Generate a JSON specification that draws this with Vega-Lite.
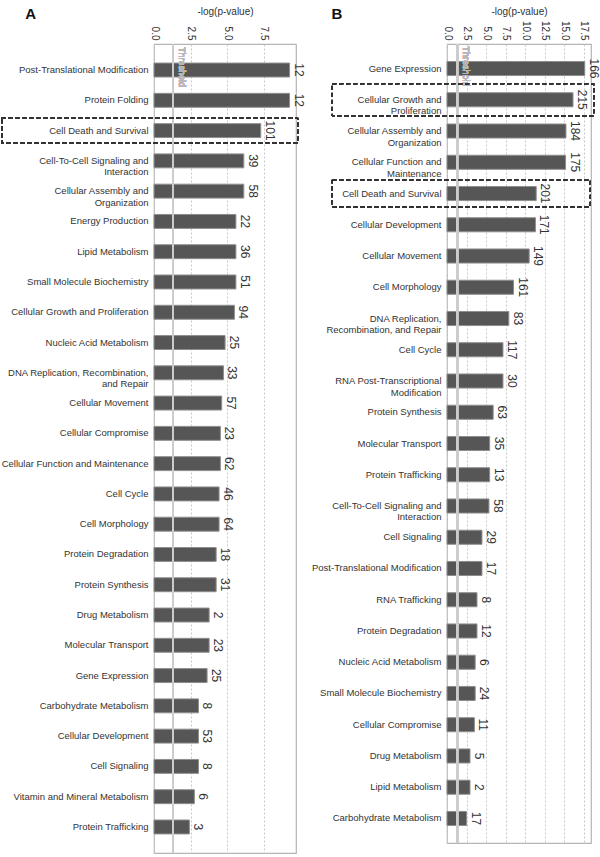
{
  "$schema": "https://vega.github.io/schema/vega-lite/v6.json",
  "padding": {"left": 0, "top": 5, "right": 0, "bottom": 2},
  "spacing": 4,
  "config": {
    "font": "Liberation Sans",
    "view": {"stroke": "#b5b5b5", "strokeWidth": 1.2},
    "title": {"fontSize": 15, "fontWeight": "bold", "color": "#111", "anchor": "start", "frame": "bounds"},
    "axisY": {"domain": false, "ticks": false, "labelFontSize": 9.5, "labelColor": "#333", "labelPadding": 6, "labelLineHeight": 11.5, "labelLimit": 300, "title": null, "labelExpr": "split(datum.label, '|')"},
    "axisX": {"orient": "top", "domain": false, "ticks": false, "labelFontSize": 10, "labelColor": "#333", "labelAngle": 90, "labelAlign": "right", "labelBaseline": "middle", "labelPadding": 4, "format": ".1f", "grid": true, "gridDash": [2, 2], "gridColor": "#c8c8c8", "titleFontSize": 10, "titleFontWeight": "normal", "titleColor": "#333", "titlePadding": 4, "minExtent": 24, "maxExtent": 24, "labelOverlap": false}
  },
  "hconcat": [
    {
      "width": 142,
      "height": 809,
      "title": {"text": "A", "offset": -16, "dx": 24},
      "data": {"values": [
        {"category": "Post-Translational Modification", "logp": 9.27, "molecules": 12},
        {"category": "Protein Folding", "logp": 9.27, "molecules": 12},
        {"category": "Cell Death and Survival", "logp": 7.3, "molecules": 101},
        {"category": "Cell-To-Cell Signaling and|Interaction", "logp": 6.14, "molecules": 39},
        {"category": "Cellular Assembly and|Organization", "logp": 6.14, "molecules": 58},
        {"category": "Energy Production", "logp": 5.6, "molecules": 22},
        {"category": "Lipid Metabolism", "logp": 5.6, "molecules": 36},
        {"category": "Small Molecule Biochemistry", "logp": 5.6, "molecules": 51},
        {"category": "Cellular Growth and Proliferation", "logp": 5.5, "molecules": 94},
        {"category": "Nucleic Acid Metabolism", "logp": 4.86, "molecules": 25},
        {"category": "DNA Replication, Recombination,|and Repair", "logp": 4.75, "molecules": 33},
        {"category": "Cellular Movement", "logp": 4.63, "molecules": 57},
        {"category": "Cellular Compromise", "logp": 4.54, "molecules": 23},
        {"category": "Cellular Function and Maintenance", "logp": 4.54, "molecules": 62},
        {"category": "Cell Cycle", "logp": 4.45, "molecules": 46},
        {"category": "Cell Morphology", "logp": 4.45, "molecules": 64},
        {"category": "Protein Degradation", "logp": 4.25, "molecules": 18},
        {"category": "Protein Synthesis", "logp": 4.25, "molecules": 31},
        {"category": "Drug Metabolism", "logp": 3.77, "molecules": 2},
        {"category": "Molecular Transport", "logp": 3.77, "molecules": 23},
        {"category": "Gene Expression", "logp": 3.63, "molecules": 25},
        {"category": "Carbohydrate Metabolism", "logp": 3.04, "molecules": 8},
        {"category": "Cellular Development", "logp": 3.04, "molecules": 53},
        {"category": "Cell Signaling", "logp": 3.04, "molecules": 8},
        {"category": "Vitamin and Mineral Metabolism", "logp": 2.76, "molecules": 6},
        {"category": "Protein Trafficking", "logp": 2.42, "molecules": 3}
      ]},
      "encoding": {
        "y": {"field": "category", "type": "nominal", "sort": null, "scale": {"paddingInner": 0.54, "paddingOuter": 0.63}},
        "x": {"field": "logp", "type": "quantitative", "scale": {"domain": [0, 9.71], "nice": false}, "axis": {"title": "-log(p-value)", "values": [0, 2.5, 5, 7.5]}}
      },
      "layer": [
        {"mark": {"type": "bar", "fill": "#565656", "stroke": "#8e8e8e", "strokeWidth": 1}},
        {"mark": {"type": "text", "angle": 90, "align": "center", "baseline": "bottom", "dy": -2, "fontSize": 12, "fill": "#333"}, "encoding": {"text": {"field": "molecules", "type": "quantitative"}}},
        {"mark": {"type": "rule", "color": "#cccccc", "opacity": 0.6, "strokeWidth": 2}, "encoding": {"x": {"datum": 1.3}, "y": null}},
        {"mark": {"type": "text", "text": "Threshold", "angle": 90, "align": "left", "baseline": "bottom", "dx": -16, "dy": -4, "fontSize": 9, "fill": "#b8b8b8"}, "encoding": {"x": {"datum": 1.3}, "y": {"datum": "Post-Translational Modification", "type": "nominal", "bandPosition": 0}}},
        {"mark": {"type": "bar", "fill": null, "fillOpacity": 0, "stroke": "#333", "strokeWidth": 1, "strokeDash": [4, 3], "height": {"band": 1.79}}, "encoding": {"x": {"datum": -10.41}, "x2": {"datum": 9.85}, "y": {"datum": "Cell Death and Survival", "type": "nominal"}}}
      ]
    },
    {
      "width": 144,
      "height": 799,
      "title": {"text": "B", "offset": -16, "dx": 20},
      "data": {"values": [
        {"category": "Gene Expression", "logp": 17.6, "molecules": 166},
        {"category": "Cellular Growth and|Proliferation", "logp": 16.1, "molecules": 215},
        {"category": "Cellular Assembly and|Organization", "logp": 15.2, "molecules": 184},
        {"category": "Cellular Function and|Maintenance", "logp": 15.15, "molecules": 175},
        {"category": "Cell Death and Survival", "logp": 11.4, "molecules": 201},
        {"category": "Cellular Development", "logp": 11.3, "molecules": 171},
        {"category": "Cellular Movement", "logp": 10.5, "molecules": 149},
        {"category": "Cell Morphology", "logp": 8.5, "molecules": 161},
        {"category": "DNA Replication,|Recombination, and Repair", "logp": 7.9, "molecules": 83},
        {"category": "Cell Cycle", "logp": 7.15, "molecules": 117},
        {"category": "RNA Post-Transcriptional|Modification", "logp": 7.15, "molecules": 30},
        {"category": "Protein Synthesis", "logp": 5.9, "molecules": 63},
        {"category": "Molecular Transport", "logp": 5.45, "molecules": 35},
        {"category": "Protein Trafficking", "logp": 5.45, "molecules": 13},
        {"category": "Cell-To-Cell Signaling and|Interaction", "logp": 5.36, "molecules": 58},
        {"category": "Cell Signaling", "logp": 4.47, "molecules": 29},
        {"category": "Post-Translational Modification", "logp": 4.47, "molecules": 17},
        {"category": "RNA Trafficking", "logp": 3.83, "molecules": 8},
        {"category": "Protein Degradation", "logp": 3.83, "molecules": 12},
        {"category": "Nucleic Acid Metabolism", "logp": 3.6, "molecules": 6},
        {"category": "Small Molecule Biochemistry", "logp": 3.6, "molecules": 24},
        {"category": "Cellular Compromise", "logp": 3.5, "molecules": 11},
        {"category": "Drug Metabolism", "logp": 2.94, "molecules": 5},
        {"category": "Lipid Metabolism", "logp": 2.94, "molecules": 2},
        {"category": "Carbohydrate Metabolism", "logp": 2.5, "molecules": 17}
      ]},
      "encoding": {
        "y": {"field": "category", "type": "nominal", "sort": null, "scale": {"paddingInner": 0.55, "paddingOuter": 0.56}},
        "x": {"field": "logp", "type": "quantitative", "scale": {"domain": [0, 18.4], "nice": false}, "axis": {"title": "-log(p-value)", "values": [0, 2.5, 5, 7.5, 10, 12.5, 15, 17.5]}}
      },
      "layer": [
        {"mark": {"type": "bar", "fill": "#565656", "stroke": "#8e8e8e", "strokeWidth": 1}},
        {"mark": {"type": "text", "angle": 90, "align": "center", "baseline": "bottom", "dy": -2, "fontSize": 12, "fill": "#333"}, "encoding": {"text": {"field": "molecules", "type": "quantitative"}}},
        {"mark": {"type": "rule", "color": "#cccccc", "opacity": 0.6, "strokeWidth": 2}, "encoding": {"x": {"datum": 1.3}, "y": null}},
        {"mark": {"type": "text", "text": "Threshold", "angle": 90, "align": "left", "baseline": "bottom", "dx": -15, "dy": -4, "fontSize": 9, "fill": "#b8b8b8"}, "encoding": {"x": {"datum": 1.3}, "y": {"datum": "Gene Expression", "type": "nominal", "bandPosition": 0}}},
        {"mark": {"type": "bar", "fill": null, "fillOpacity": 0, "stroke": "#333", "strokeWidth": 1, "strokeDash": [4, 3], "height": {"band": 2.28}}, "encoding": {"x": {"datum": -14.67}, "x2": {"datum": 18.75}, "y": {"datum": "Cellular Growth and|Proliferation", "type": "nominal"}}},
        {"mark": {"type": "bar", "fill": null, "fillOpacity": 0, "stroke": "#333", "strokeWidth": 1, "strokeDash": [4, 3], "height": {"band": 1.93}}, "encoding": {"x": {"datum": -14.67}, "x2": {"datum": 18.3}, "y": {"datum": "Cell Death and Survival", "type": "nominal"}}}
      ]
    }
  ]
}
